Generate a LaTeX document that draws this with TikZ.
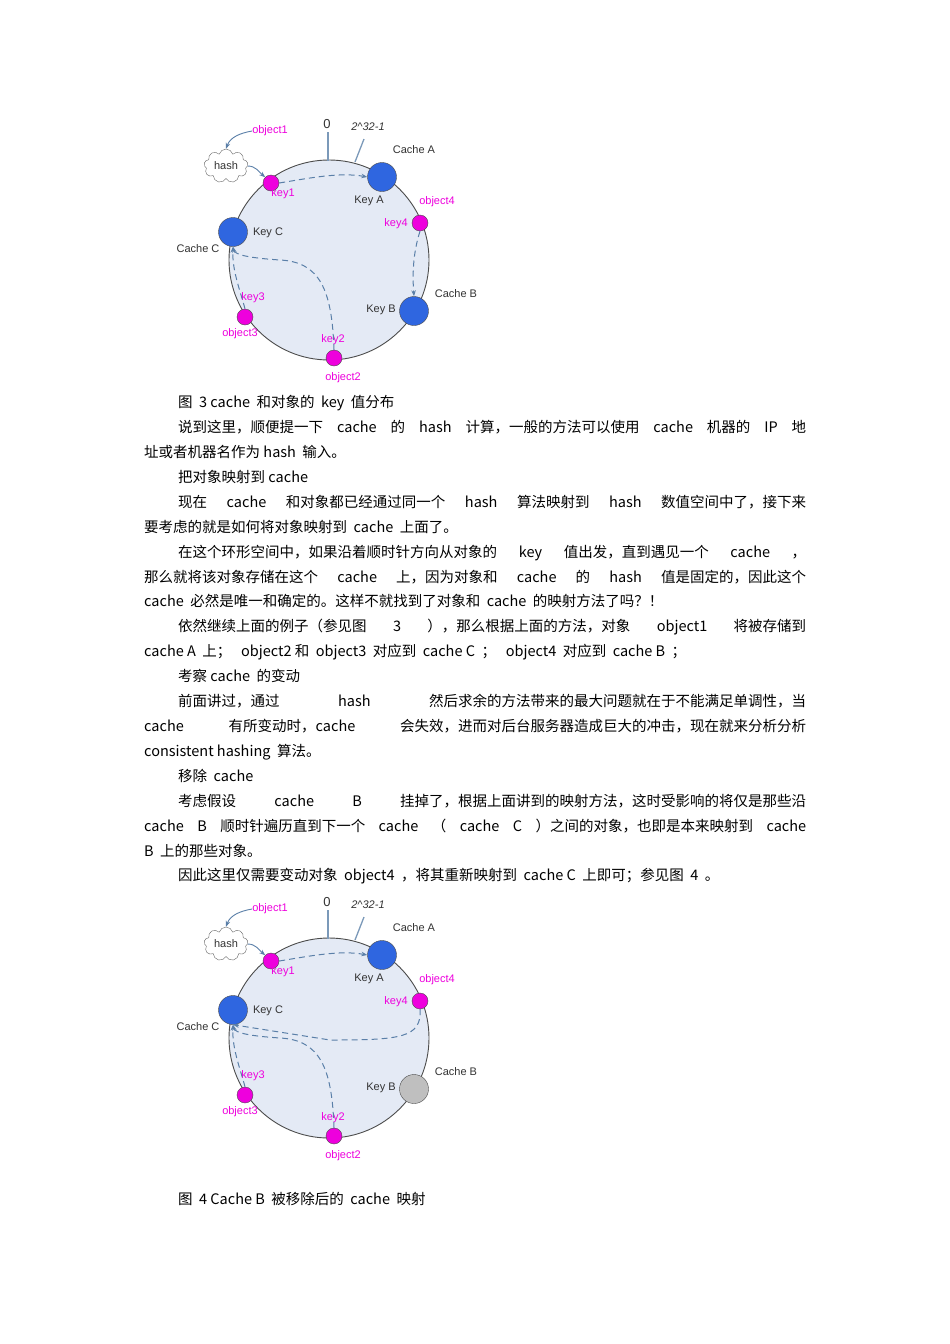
\documentclass[tikz,border=0pt]{standalone}
\usepackage{fontspec}
\setmainfont{Noto Sans CJK SC}
\newfontfamily\diag{Liberation Sans}
\XeTeXlinebreaklocale "zh"
\XeTeXlinebreakskip=0pt plus 1pt
\usetikzlibrary{shapes.symbols,arrows.meta}
\definecolor{ringfill}{HTML}{E4EAF5}
\definecolor{keymag}{HTML}{EE00DD}
\definecolor{cacheblue}{HTML}{2F66E0}
\definecolor{arrowc}{HTML}{5A7FA8}
\tikzset{
 ring/.style={circle,draw=black!70,line width=0.9pt,fill=ringfill,minimum size=200pt,inner sep=0},
 keydot/.style={circle,draw=black!70,fill=keymag,minimum size=16pt,inner sep=0},
 cachedot/.style={circle,draw=black!70,fill=cacheblue,minimum size=29pt,inner sep=0},
 deadcache/.style={circle,draw=black!70,fill=black!25,minimum size=29pt,inner sep=0},
 lbl/.style={font=\diag\fontsize{11}{13}\selectfont,text=black!80,inner sep=0},
 mlbl/.style={font=\diag\fontsize{11}{13}\selectfont,text=keymag,inner sep=0},
 dasharr/.style={draw=arrowc,line width=1pt,dash pattern=on 6pt off 4pt,-{Stealth[length=6pt]}},
 solidarr/.style={draw=arrowc,line width=0.9pt,-{Stealth[length=6pt]}},
 tickline/.style={draw=arrowc!80,line width=1.3pt},
 txt/.style={anchor=base west,inner sep=0,font=\fontsize{14.5}{16}\selectfont},
}
\newcommand\ringdiag[2]{%
 \node[ring] (ring#1) at (329,260) {};
 \coordinate (zt#1) at (328,132);
 \coordinate (zb#1) at (328,161);
 \draw[tickline] (zt#1) -- (zb#1);
 \coordinate (mt#1) at (364,139);
 \coordinate (mb#1) at (355,162);
 \draw[tickline] (mt#1) -- (mb#1);
 \node[lbl] (zero#1) at (327,124) {\fontsize{13}{13}\selectfont 0};
 \node[lbl] (max#1) at (368,127) {\textit{2\^{}32-1}};
 \node[cachedot] (ca#1) at (382,177) {};
 \node[#2] (cb#1) at (414,311) {};
 \node[cachedot] (cc#1) at (233,232) {};
 \node[keydot] (k1#1) at (271,183) {};
 \node[keydot] (k4#1) at (420,223) {};
 \node[keydot] (k2#1) at (334,358) {};
 \node[keydot] (k3#1) at (245,317) {};
 \node[cloud,draw=black!60,fill=white,cloud puffs=9,minimum width=44pt,minimum height=34pt,inner sep=0] (hash#1) at (226,166) {};
 \node[lbl] at (hash#1) {hash};
 \node[lbl] (tca#1) at (414,150) {Cache A};
 \node[lbl] (tka#1) at (369,201) {Key A};
 \node[mlbl] (to4#1) at (437,202) {object4};
 \node[mlbl] (tk4#1) at (396,224) {key4};
 \node[lbl] (tcb#1) at (456,294) {Cache B};
 \node[lbl] (tkb#1) at (381,310) {Key B};
 \node[mlbl] (tk2#1) at (333,340) {key2};
 \node[mlbl] (to2#1) at (343,378) {object2};
 \node[mlbl] (to3#1) at (240,334) {object3};
 \node[mlbl] (tk3#1) at (253,298) {key3};
 \node[lbl] (tcc#1) at (198,249) {Cache C};
 \node[lbl] (tkc#1) at (268,233) {Key C};
 \node[mlbl] (to1#1) at (270,131) {object1};
 \node[mlbl] (tk1#1) at (283,194) {key1};
 \draw[solidarr] (to1#1.west) to[out=190,in=70] (hash#1.north);
 \draw[solidarr] (hash#1.east) to[out=0,in=140] (k1#1.north west);
 \draw[dasharr] (k1#1.east) .. controls (310,178) and (340,172) .. (ca#1.west);
 \draw[dasharr] (k3#1.north) .. controls (240,290) and (232,270) .. (cc#1.south);
 \draw[dasharr] (k2#1.north) .. controls (332,290) and (320,262) .. (280,260) .. controls (250,258) and (235,255) .. (cc#1.south);
}
\begin{document}
\begin{tikzpicture}[x=1pt,y=-1pt]
\useasboundingbox (0,0) rectangle (950,1344);
\fill[white] (0,0) rectangle (950,1344);
\begin{scope}
 \ringdiag{a}{cachedot}
 \draw[dasharr] (k4a.south) .. controls (414,250) and (412,270) .. (cba.north);
\end{scope}
\begin{scope}[yshift=-778pt]
 \ringdiag{b}{deadcache}
 \draw[dasharr] (k4b.south) .. controls (422,260) and (400,262) .. (330,262) -- (ccb.south);
\end{scope}
\node[txt] (l1) at (178,407) {图\ \ 3 cache\ \ 和对象的\ \ key\ \ 值分布};
\node[txt] (l2) at (178,432) {\makebox[628pt][s]{说到这里，顺便提一下 cache 的 hash 计算，一般的方法可以使用 cache 机器的 IP 地}};
\node[txt] (l3) at (144,457) {址或者机器名作为 hash\ \ 输入。};
\node[txt] (l4) at (178,482) {把对象映射到 cache};
\node[txt] (l5) at (178,507) {\makebox[628pt][s]{现在 cache 和对象都已经通过同一个 hash 算法映射到 hash 数值空间中了，接下来}};
\node[txt] (l6) at (144,532) {要考虑的就是如何将对象映射到\ \ cache\ \ 上面了。};
\node[txt] (l7) at (178,557) {\makebox[628pt][s]{在这个环形空间中，如果沿着顺时针方向从对象的 key 值出发，直到遇见一个 cache ，}};
\node[txt] (l8) at (144,582) {\makebox[662pt][s]{那么就将该对象存储在这个 cache 上，因为对象和 cache 的 hash 值是固定的，因此这个}};
\node[txt] (l9) at (144,606) {cache\ \ 必然是唯一和确定的。这样不就找到了对象和\ \ cache\ \ 的映射方法了吗？！};
\node[txt] (l10) at (178,631) {\makebox[628pt][s]{依然继续上面的例子（参见图 3 ），那么根据上面的方法，对象 object1 将被存储到}};
\node[txt] (l11) at (144,656) {cache A\ \ 上；\ \ \ object2 和\ \ object3\ \ 对应到\ \ cache C\ \ ；\ \ \ object4\ \ 对应到\ \ cache B\ \ ；};
\node[txt] (l12) at (178,681) {考察 cache\ \ 的变动};
\node[txt] (l13) at (178,706) {\makebox[628pt][s]{前面讲过，通过 hash 然后求余的方法带来的最大问题就在于不能满足单调性，当}};
\node[txt] (l14) at (144,731) {\makebox[662pt][s]{cache 有所变动时，cache 会失效，进而对后台服务器造成巨大的冲击，现在就来分析分析}};
\node[txt] (l15) at (144,756) {consistent hashing\ \ 算法。};
\node[txt] (l16) at (178,781) {移除\ \ cache};
\node[txt] (l17) at (178,806) {\makebox[628pt][s]{考虑假设 cache B 挂掉了，根据上面讲到的映射方法，这时受影响的将仅是那些沿}};
\node[txt] (l18) at (144,831) {\makebox[662pt][s]{cache B 顺时针遍历直到下一个 cache （ cache C ）之间的对象，也即是本来映射到 cache}};
\node[txt] (l19) at (144,856) {B\ \ 上的那些对象。};
\node[txt] (l20) at (178,880) {因此这里仅需要变动对象\ \ object4\ \ ，将其重新映射到\ \ cache C\ \ 上即可；参见图\ \ 4\ \ 。};
\node[txt] (l21) at (178,1204) {图\ \ 4 Cache B\ \ 被移除后的\ \ cache\ \ 映射};
\end{tikzpicture}
\end{document}
